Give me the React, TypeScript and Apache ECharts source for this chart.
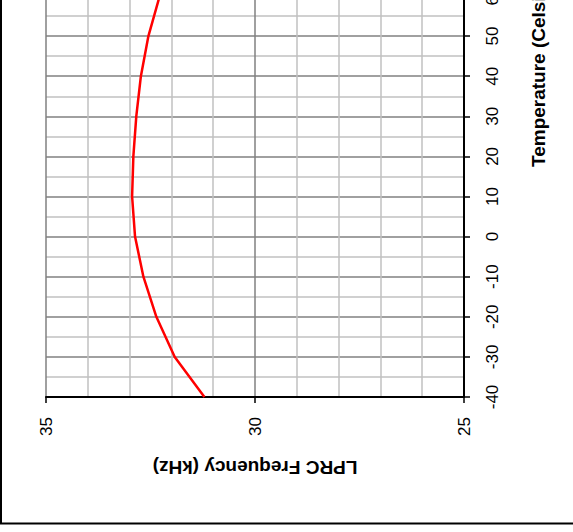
import React, { useEffect, useRef } from "react";
import * as echarts from "echarts";

const temperatures = [-40, -30, -20, -10, 0, 10, 20, 30, 40, 50, 60];
const frequencyKHz = [31.21, 31.92, 32.36, 32.67, 32.87, 32.94, 32.91, 32.84, 32.73, 32.55, 32.28];

const freqTitle = "LPRC Frequency (kHz)";
const tempTitle = "Temperature (Celsius)";

export default function App() {
  const ref = useRef<HTMLDivElement>(null);
  useEffect(() => {
    if (!ref.current) return;
    const chart = echarts.init(ref.current, undefined, { renderer: "svg" });
    const font = "'Liberation Sans', Arial, sans-serif";
    chart.setOption({
      animation: false,
      backgroundColor: "#ffffff",
      grid: { left: 46, right: 109, top: -4, bottom: 135, containLabel: false, outerBoundsMode: "none" },
      xAxis: {
        type: "value",
        min: 25,
        max: 35,
        interval: 5,
        inverse: true,
        position: "bottom",
        axisLine: { show: true, onZero: false, lineStyle: { color: "#000", width: 2 } },
        axisTick: { show: true, length: 6, lineStyle: { color: "#000", width: 1.5 } },
        axisLabel: { rotate: 90, margin: 20, fontSize: 17, color: "#000", fontFamily: font },
        splitLine: { show: true, lineStyle: { color: "#808080", width: 1.5 } },
        minorTick: { show: false, splitNumber: 5 },
        minorSplitLine: { show: true, lineStyle: { color: "#c0c0c0", width: 1.5 } },
      },
      yAxis: {
        type: "value",
        min: -40,
        max: 60,
        interval: 10,
        position: "right",
        axisLine: { show: true, onZero: false, lineStyle: { color: "#000", width: 2 } },
        axisTick: { show: true, length: 6, lineStyle: { color: "#000", width: 1.5 } },
        axisLabel: { rotate: 90, margin: 20, fontSize: 17, color: "#000", fontFamily: font },
        splitLine: { show: true, lineStyle: { color: "#808080", width: 1.5 } },
        minorTick: { show: false, splitNumber: 2 },
        minorSplitLine: { show: true, lineStyle: { color: "#c0c0c0", width: 1.5 } },
      },
      series: [
        {
          type: "line",
          data: temperatures.map((t, i) => [frequencyKHz[i], t]),
          showSymbol: false,
          symbol: "none",
          lineStyle: { color: "#ff0000", width: 2.5 },
          clip: true,
          z: 5,
        },
      ],
      graphic: [
        {
          type: "rect",
          shape: { x: 1, y: -10, width: 620, height: 533.5 },
          style: { fill: "none", stroke: "#000", lineWidth: 2 },
          silent: true,
        },
        {
          type: "text",
          x: 255,
          y: 467,
          rotation: Math.PI,
          style: {
            text: freqTitle,
            fontSize: 19,
            fontWeight: "bold",
            fontFamily: font,
            fill: "#000",
            align: "center",
            verticalAlign: "middle",
          },
        },
        {
          type: "text",
          x: 538,
          y: 167,
          rotation: Math.PI / 2,
          style: {
            text: tempTitle,
            fontSize: 19,
            fontWeight: "bold",
            fontFamily: font,
            fill: "#000",
            align: "left",
            verticalAlign: "middle",
          },
        },
      ],
    });
    return () => chart.dispose();
  }, []);
  return (
    <div
      ref={ref}
      style={{ position: "fixed", left: 0, top: 0, width: 573, height: 532 }}
    />
  );
}
